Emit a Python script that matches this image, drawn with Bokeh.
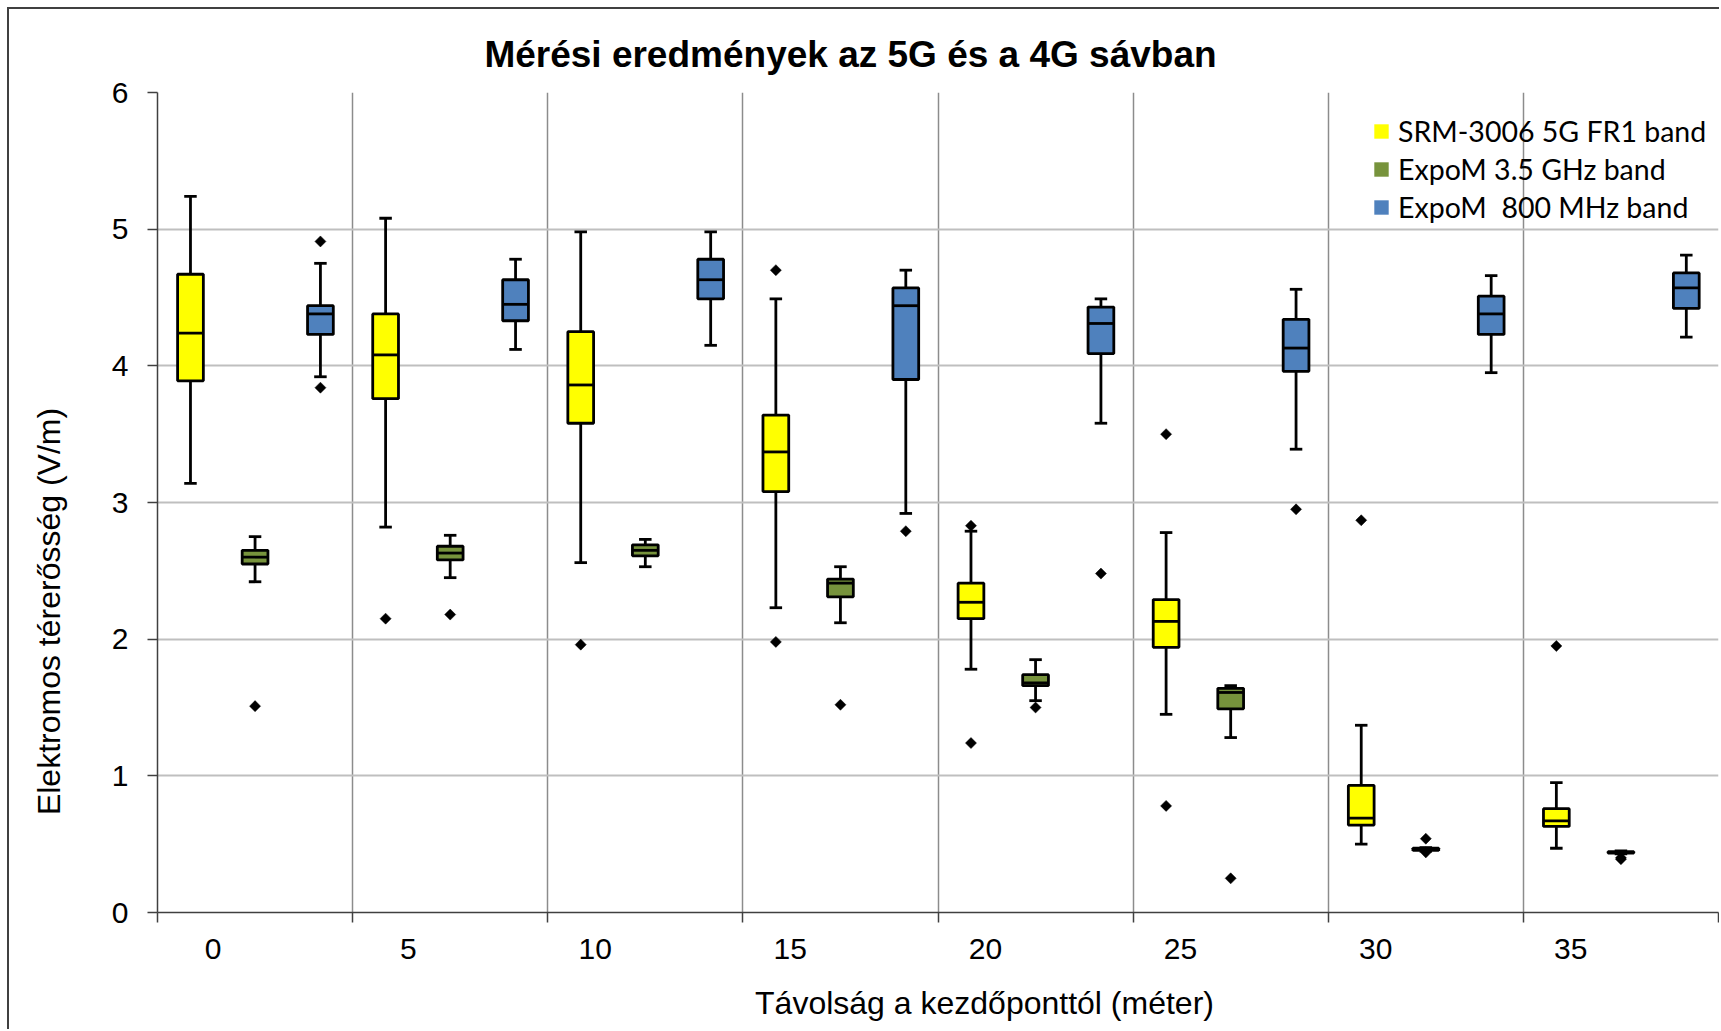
from bokeh.plotting import figure
from bokeh.models import (ColumnDataSource, FixedTicker, CustomJSTickFormatter, Legend,
                          LegendItem, Title, LinearAxis)
from bokeh.transform import dodge
from bokeh.embed import file_html
from bokeh.resources import INLINE

# ---------------- data ----------------
distances = [0, 5, 10, 15, 20, 25, 30, 35]
series_names = ["SRM-3006 5G FR1 band", "ExpoM 3.5 GHz band", "ExpoM  800 MHz band"]
series_colors = ["#FFFF00", "#77933C", "#4F81BD"]

# SRM-3006 5G FR1 band
srm_low = [3.14, 2.82, 2.56, 2.23, 1.78, 1.45, 0.50, 0.47]
srm_q1 = [3.89, 3.76, 3.58, 3.08, 2.15, 1.94, 0.64, 0.63]
srm_med = [4.24, 4.08, 3.86, 3.37, 2.27, 2.13, 0.69, 0.67]
srm_q3 = [4.67, 4.38, 4.25, 3.64, 2.41, 2.29, 0.93, 0.76]
srm_high = [5.24, 5.08, 4.98, 4.49, 2.79, 2.78, 1.37, 0.95]
srm_out_cat = [1, 2, 3, 3, 4, 4, 5, 5, 6, 7]
srm_out_val = [2.15, 1.96, 4.70, 1.98, 2.83, 1.24, 3.50, 0.78, 2.87, 1.95]

# ExpoM 3.5 GHz band
g35_low = [2.42, 2.45, 2.53, 2.12, 1.55, 1.28, 0.450, 0.430]
g35_q1 = [2.55, 2.58, 2.61, 2.31, 1.66, 1.49, 0.455, 0.435]
g35_med = [2.60, 2.63, 2.65, 2.41, 1.68, 1.61, 0.465, 0.440]
g35_q3 = [2.65, 2.68, 2.69, 2.44, 1.74, 1.64, 0.470, 0.445]
g35_high = [2.75, 2.76, 2.73, 2.53, 1.85, 1.66, 0.475, 0.450]
g35_out_cat = [0, 1, 3, 4, 5, 6, 6, 7, 7]
g35_out_val = [1.51, 2.18, 1.52, 1.50, 0.25, 0.54, 0.44, 0.40, 0.39]

# ExpoM 800 MHz band
m800_low = [3.92, 4.12, 4.15, 2.92, 3.58, 3.39, 3.95, 4.21]
m800_q1 = [4.23, 4.33, 4.49, 3.90, 4.09, 3.96, 4.23, 4.42]
m800_med = [4.38, 4.45, 4.63, 4.44, 4.31, 4.13, 4.38, 4.57]
m800_q3 = [4.44, 4.63, 4.78, 4.57, 4.43, 4.34, 4.51, 4.68]
m800_high = [4.75, 4.78, 4.98, 4.70, 4.49, 4.56, 4.66, 4.81]
m800_out_cat = [0, 0, 3, 4, 5]
m800_out_val = [4.91, 3.84, 2.79, 2.48, 2.95]

y_ticks = [0, 1, 2, 3, 4, 5, 6]

title_text = "Mérési eredmények az 5G és a 4G sávban"
x_label_text = "Távolság a kezdőponttól (méter)"
y_label_text = "Elektromos térerősség (V/m)"

# ---------------- figure ----------------
PAGE_W, PAGE_H = 1721, 1031
OX = OY = 9                      # canvas origin (outer border drawn just before it)
FRAME_L, FRAME_T, FRAME_R, FRAME_B = 157, 92, 1718, 912
W, H = PAGE_W - OX, PAGE_H - OY
ncat = len(distances)
cat_px = (FRAME_R - FRAME_L) / ncat

p = figure(width=W, height=H, x_range=(0, ncat), y_range=(0, 6),
           output_backend="svg", toolbar_location=None,
           min_border_left=FRAME_L - OX, min_border_right=PAGE_W - FRAME_R,
           min_border_top=FRAME_T - OY, min_border_bottom=PAGE_H - FRAME_B,
           background_fill_color="white", border_fill_color="white",
           margin=(OY - 2, 0, 0, OX - 2))
p.styles = {"border-left": "2px solid #404040", "border-top": "2px solid #404040"}
p.outline_line_color = None

# title
TITLE_SIZE = 37
p.title.text = title_text
p.title.text_font = "Liberation Sans"
p.title.text_font_size = f"{TITLE_SIZE}px"
p.title.text_font_style = "bold"
p.title.text_color = "black"
p.title.align = "left"
p.title.offset = 850 - 19.79 * TITLE_SIZE / 2 - FRAME_L
p.title.standoff = 36

# grids
p.xgrid.ticker = FixedTicker(ticks=list(range(ncat + 1)))
p.xgrid.grid_line_color = "#8c8c8c"
p.xgrid.grid_line_width = 1.5
p.ygrid.ticker = FixedTicker(ticks=y_ticks)
p.ygrid.grid_line_color = "#bfbfbf"
p.ygrid.grid_line_width = 2

# y axis
p.yaxis.ticker = FixedTicker(ticks=y_ticks)
p.yaxis.axis_line_color = "#404040"
p.yaxis.axis_line_width = 1.5
p.yaxis.major_tick_line_color = "#404040"
p.yaxis.major_tick_line_width = 1.5
p.yaxis.major_tick_out = 10
p.yaxis.major_tick_in = 0
p.yaxis.minor_tick_line_color = None
p.yaxis.major_label_text_font = "Liberation Sans"
p.yaxis.major_label_text_font_size = "30px"
p.yaxis.major_label_text_color = "black"
p.yaxis.major_label_standoff = 19

# x axis: labels right-aligned inside each category, tick marks at category boundaries
label_pos = [i + (64 - 8.3 * len(str(d))) / cat_px for i, d in enumerate(distances)]
p.xaxis.ticker = FixedTicker(ticks=label_pos, minor_ticks=list(range(ncat + 1)))
p.xaxis.formatter = CustomJSTickFormatter(
    args=dict(labels=[str(d) for d in distances]),
    code="const i = Math.floor(tick); return (i >= 0 && i < labels.length) ? labels[i] : '';")
p.xaxis.axis_line_color = "#404040"
p.xaxis.axis_line_width = 1.5
p.xaxis.major_tick_line_color = None
p.xaxis.major_tick_out = 0
p.xaxis.major_tick_in = 0
p.xaxis.minor_tick_line_color = "#404040"
p.xaxis.minor_tick_line_width = 1.5
p.xaxis.minor_tick_out = 10
p.xaxis.minor_tick_in = 0
p.xaxis.major_label_text_font = "Liberation Sans"
p.xaxis.major_label_text_font_size = "30px"
p.xaxis.major_label_text_color = "black"
p.xaxis.major_label_standoff = 16


def spacer_axis(size):
    # an invisible axis whose only job is to take up `size` pixels
    return LinearAxis(ticker=FixedTicker(ticks=[1]), major_tick_out=size, major_tick_in=0,
                      formatter=CustomJSTickFormatter(code="return '';"),
                      axis_line_color=None, major_tick_line_color=None,
                      minor_tick_line_color=None, major_label_standoff=0)


# axis titles, placed off-centre like the original
XL_SIZE, YL_SIZE = 32, 32
p.add_layout(spacer_axis(23), "below")
p.add_layout(Title(text=x_label_text, align="left",
                   offset=984 - 14.339 * XL_SIZE / 2 - FRAME_L, standoff=0,
                   vertical_align="top", text_font="Liberation Sans",
                   text_font_size=f"{XL_SIZE}px", text_font_style="normal",
                   text_color="black"), "below")
p.add_layout(spacer_axis(40), "left")
p.add_layout(Title(text=y_label_text, align="left",
                   offset=FRAME_B - (611 + 12.725 * YL_SIZE / 2), standoff=0,
                   vertical_align="top", text_font="Liberation Sans",
                   text_font_size=f"{YL_SIZE}px", text_font_style="normal",
                   text_color="black"), "left")

# ---------------- boxes ----------------
BOX_W = 0.132
LW = 2.8
offsets = [-0.331, 0.0, 0.335]
series = [
    (srm_low, srm_q1, srm_med, srm_q3, srm_high, srm_out_cat, srm_out_val),
    (g35_low, g35_q1, g35_med, g35_q3, g35_high, g35_out_cat, g35_out_val),
    (m800_low, m800_q1, m800_med, m800_q3, m800_high, m800_out_cat, m800_out_val),
]

legend_items = []
for k, (lo, q1, med, q3, hi, oc, ov) in enumerate(series):
    xs = [i + 0.5 + offsets[k] for i in range(ncat)]
    src = ColumnDataSource(dict(x=xs, lo=lo, q1=q1, med=med, q3=q3, hi=hi))
    p.segment(x0="x", y0="q3", x1="x", y1="hi", source=src, line_color="black", line_width=LW)
    p.segment(x0="x", y0="q1", x1="x", y1="lo", source=src, line_color="black", line_width=LW)
    p.scatter(x="x", y="hi", source=src, marker="dash", size=12.5, line_color="black", line_width=LW)
    p.scatter(x="x", y="lo", source=src, marker="dash", size=12.5, line_color="black", line_width=LW)
    fill_r = p.vbar(x="x", bottom="q1", top="q3", width=BOX_W, source=src,
                    fill_color=series_colors[k], line_color=None)
    p.vbar(x="x", bottom="q1", top="q3", width=BOX_W, source=src,
           fill_color=None, line_color="black", line_width=LW)
    p.segment(x0=dodge("x", -BOX_W / 2), y0="med", x1=dodge("x", BOX_W / 2), y1="med",
              source=src, line_color="black", line_width=LW)
    osrc = ColumnDataSource(dict(x=[c + 0.5 + offsets[k] for c in oc], y=ov))
    p.scatter(x="x", y="y", source=osrc, marker="square", angle=45, angle_units="deg",
              size=7.8, fill_color="black", line_color="black", line_width=0.5)
    legend_items.append(LegendItem(label=series_names[k], renderers=[fill_r]))

legend = Legend(items=legend_items, location=(1372 - FRAME_L, FRAME_B - 226),
                border_line_color=None, background_fill_alpha=0,
                label_text_font="Lato", label_text_font_size="28.5px",
                label_text_color="black",
                glyph_width=18, glyph_height=18, label_standoff=8,
                spacing=0, padding=0, margin=0, label_height=38)
p.add_layout(legend, "center")

open("out.html", "w").write(file_html(p, INLINE))
